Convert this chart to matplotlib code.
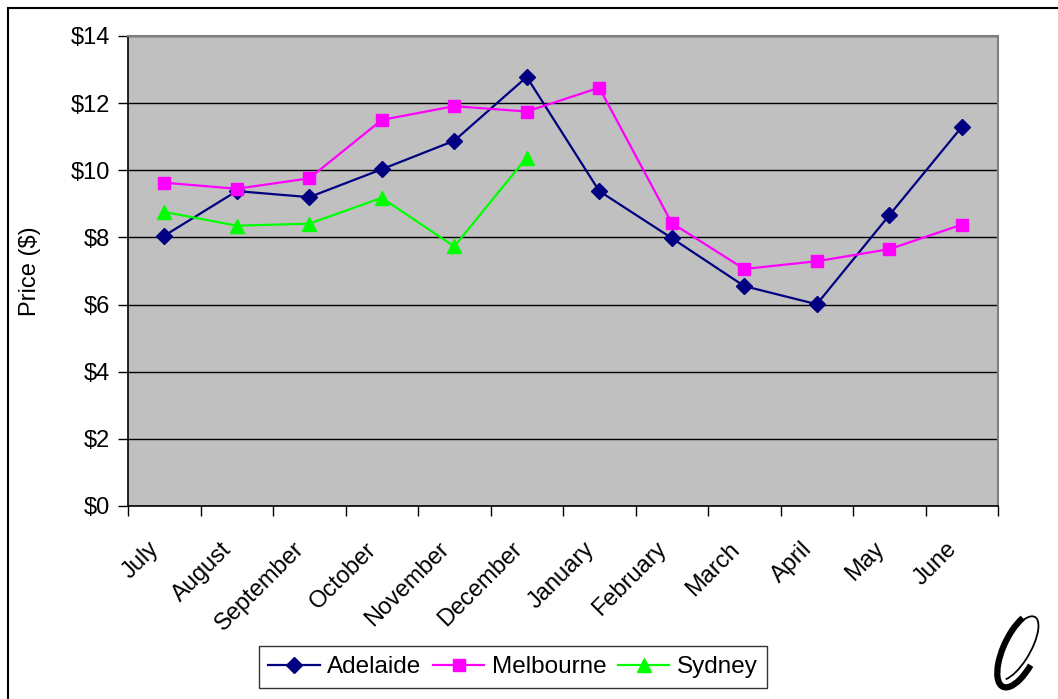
import numpy as np
import matplotlib
matplotlib.use("Agg")
import matplotlib.pyplot as plt
from matplotlib.patches import Rectangle, Arc
from matplotlib.ticker import FixedLocator, NullFormatter
from matplotlib.transforms import ScaledTranslation

plt.rcParams['font.family'] = ['Liberation Sans', 'DejaVu Sans']

months = ["July", "August", "September", "October", "November", "December",
          "January", "February", "March", "April", "May", "June"]
adelaide = [8.05, 9.38, 9.20, 10.03, 10.88, 12.78, 9.38, 7.98, 6.55, 6.01, 8.66, 11.29]
melbourne = [9.63, 9.45, 9.76, 11.50, 11.91, 11.75, 12.46, 8.43, 7.06, 7.29, 7.65, 8.38]
sydney = [8.76, 8.35, 8.41, 9.18, 7.73, 10.38,
          np.nan, np.nan, np.nan, np.nan, np.nan, np.nan]
y_ticks = [0, 2, 4, 6, 8, 10, 12, 14]

W, H = 1058, 699
fig = plt.figure(figsize=(W / 100, H / 100), dpi=100)
fig.patch.set_facecolor("white")

# outer chart frame (left and top edges visible)
fig.patches.append(Rectangle((7.5 / W, -0.05), 1.2, 1 - 7.5 / H + 0.05,
                             transform=fig.transFigure, fill=False,
                             edgecolor="black", linewidth=1.5))

ax = fig.add_axes([128 / W, 1 - 506 / H, (998 - 128) / W, (506 - 36) / H])
ax.set_facecolor("#C0C0C0")

x = np.arange(len(months))
ax.plot(x, adelaide, color="#000080", lw=1.6, marker="D", ms=8,
        mfc="#000080", mec="#000080", label="Adelaide", zorder=3)
ax.plot(x, melbourne, color="#FF00FF", lw=1.6, marker="s", ms=8.5,
        mfc="#FF00FF", mec="#FF00FF", label="Melbourne", zorder=3)
ax.plot(x, sydney, color="#00FF00", lw=1.6, marker="^", ms=10,
        mfc="#00FF00", mec="#00FF00", label="Sydney", zorder=3)

ax.set_xlim(-0.5, len(months) - 0.5)
ax.set_ylim(0, 14)

# y axis
ax.set_yticks(y_ticks)
ax.set_yticklabels(["\\$%d" % v for v in y_ticks])
ax.yaxis.grid(True, color="black", lw=1.0)
ax.set_axisbelow(True)
ax.tick_params(axis="y", direction="out", length=7, width=1, labelsize=17, pad=6)
ax.set_ylabel("Price (\\$)", fontsize=17, labelpad=21)

# x axis: ticks between categories, rotated labels under each category
ax.xaxis.set_major_locator(FixedLocator(np.arange(-0.5, len(months), 1.0)))
ax.xaxis.set_major_formatter(NullFormatter())
ax.tick_params(axis="x", which="major", direction="out", length=7, width=1)
label_tf = ax.get_xaxis_transform() + ScaledTranslation(-16 / 100, -32 / 100,
                                                         fig.dpi_scale_trans)
for xi, name in zip(x, months):
    ax.text(xi, 0, name, transform=label_tf, rotation=45, ha="right",
            va="top", rotation_mode="anchor", fontsize=17, clip_on=False)

for side in ("left", "bottom"):
    ax.spines[side].set_color("black")
    ax.spines[side].set_linewidth(1.2)
for side in ("top", "right"):
    ax.spines[side].set_color("#808080")
    ax.spines[side].set_linewidth(1.5)

leg = fig.legend(loc="center", bbox_to_anchor=(513 / W, 1 - 667 / H), ncol=3,
                 fontsize=17.5, frameon=True, fancybox=False, handlelength=2.1,
                 handletextpad=0.3, columnspacing=0.5, borderpad=0.4,
                 markerscale=1.0)
leg.get_frame().set_edgecolor("black")
leg.get_frame().set_linewidth(1.0)

# small logo mark in the corner
logo = fig.add_axes([990 / W, 1 - 695 / H, 60 / W, 90 / H])
logo.set_xlim(0, 1)
logo.set_ylim(0, 1.5)
logo.axis("off")
logo.add_patch(Arc((0.5, 0.75), 0.55, 1.35, angle=-25, theta1=110, theta2=330,
                   lw=4.5, color="black"))
logo.add_patch(Arc((0.45, 0.78), 0.45, 1.2, angle=-30, theta1=-80, theta2=140,
                   lw=1.3, color="black"))

fig.savefig("out.png", dpi=100)
